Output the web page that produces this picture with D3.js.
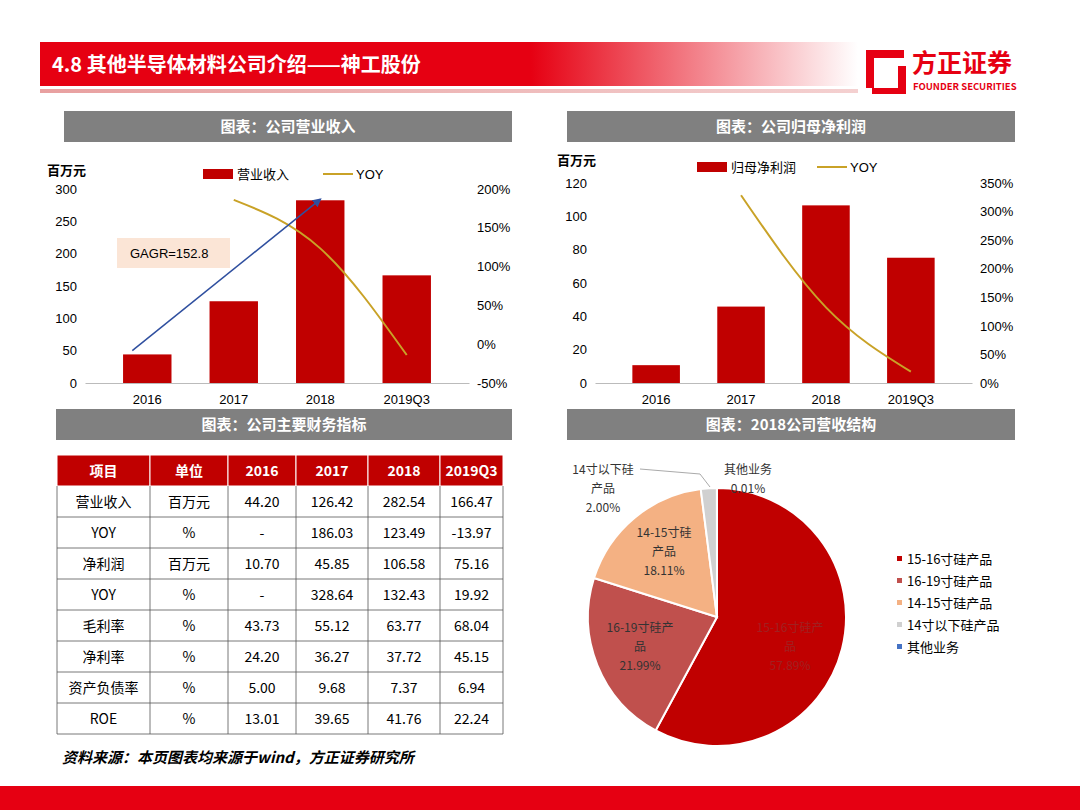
<!DOCTYPE html>
<html><head><meta charset="utf-8">
<script src="https://cdn.jsdelivr.net/npm/d3@7"></script>
<style>body{margin:0;background:#fff}text{font-family:"Noto Sans CJK SC",sans-serif}</style>
</head><body><svg id="s" width="1080" height="810"></svg>
<script>
var years = ["2016", "2017", "2018", "2019Q3"];
var revenue = [44.20, 126.42, 282.54, 166.47];
var revYoy = [null, 186.03, 123.49, -13.97];
var profit = [10.70, 45.85, 106.58, 75.16];
var profitYoy = [null, 328.64, 132.43, 19.92];
var pieNames = ["15-16寸硅产品", "16-19寸硅产品", "14-15寸硅产品", "14寸以下硅产品", "其他业务"];
var pieValues = [57.89, 21.99, 18.11, 2.00, 0.01];
var pieColors = ["#c00000", "#c0504d", "#f4b183", "#d0d0d0", "#4472c4"];
var tableHead = ["项目", "单位", "2016", "2017", "2018", "2019Q3"];
var tableRows = [
  ["营业收入", "百万元", "44.20", "126.42", "282.54", "166.47"],
  ["YOY", "%", "-", "186.03", "123.49", "-13.97"],
  ["净利润", "百万元", "10.70", "45.85", "106.58", "75.16"],
  ["YOY", "%", "-", "328.64", "132.43", "19.92"],
  ["毛利率", "%", "43.73", "55.12", "63.77", "68.04"],
  ["净利率", "%", "24.20", "36.27", "37.72", "45.15"],
  ["资产负债率", "%", "5.00", "9.68", "7.37", "6.94"],
  ["ROE", "%", "13.01", "39.65", "41.76", "22.24"]
];

var svg = d3.select("#s");
var defs = svg.append("defs");
var g1 = defs.append("linearGradient").attr("id", "hg");
g1.append("stop").attr("offset", "0").attr("stop-color", "#e60012");
g1.append("stop").attr("offset", "0.6").attr("stop-color", "#e60012");
g1.append("stop").attr("offset", "1").attr("stop-color", "#fff");
var g2 = defs.append("linearGradient").attr("id", "hg2");
g2.append("stop").attr("offset", "0").attr("stop-color", "#e8a0a0");
g2.append("stop").attr("offset", "1").attr("stop-color", "#f4d0d0");

// header
svg.append("rect").attr("x", 40).attr("y", 42).attr("width", 818).attr("height", 44).attr("fill", "url(#hg)");
svg.append("rect").attr("x", 40).attr("y", 89).attr("width", 818).attr("height", 4).attr("fill", "url(#hg2)");
svg.append("text").attr("x", 52).attr("y", 72).attr("fill", "#fff").attr("font-size", 20).attr("font-weight", "bold").text("4.8 其他半导体材料公司介绍——神工股份");
svg.append("path").attr("d", "M866,50 h38 v8 h-30 v30 h-8z M872,88 h26 v-22 h8 v28 h-34z").attr("fill", "#e60012");
svg.append("text").attr("x", 912).attr("y", 72).attr("fill", "#e60012").attr("font-size", 25).attr("font-weight", "bold").text("方正证券");
svg.append("text").attr("x", 913).attr("y", 90).attr("fill", "#e60012").attr("font-size", 9.5).attr("font-weight", "bold").text("FOUNDER SECURITIES");
svg.append("rect").attr("x", 0).attr("y", 786).attr("width", 1080).attr("height", 24).attr("fill", "#e60012");

function titleBar(x, y, w, t) {
  svg.append("rect").attr("x", x).attr("y", y).attr("width", w).attr("height", 31).attr("fill", "#808080");
  svg.append("text").attr("x", x + w / 2).attr("y", y + 21).attr("text-anchor", "middle").attr("fill", "#fff").attr("font-size", 15).attr("font-weight", "bold").text(t);
}
titleBar(64, 111, 448, "图表：公司营业收入");
titleBar(567, 111, 448, "图表：公司归母净利润");
titleBar(56, 409, 456, "图表：公司主要财务指标");
titleBar(567, 409, 448, "图表：2018公司营收结构");

function combo(o) {
  var x = d3.scaleBand().domain(years).range([o.x0, o.x1]).padding(0.44);
  var y = d3.scaleLinear().domain(o.yDom).range([383, o.yTop]);
  var y2 = d3.scaleLinear().domain(o.y2Dom).range([383, o.yTop]);
  var ax = svg.append("g").attr("transform", "translate(0,383)").call(d3.axisBottom(x).tickSize(0).tickPadding(12));
  ax.select(".domain").attr("stroke", "#bbb");
  var ay = svg.append("g").attr("transform", "translate(" + o.x0 + ",0)").call(d3.axisLeft(y).ticks(o.yTicks).tickSize(0).tickPadding(8));
  ay.select(".domain").remove();
  var ay2 = svg.append("g").attr("transform", "translate(" + o.x1 + ",0)").call(d3.axisRight(y2).ticks(o.y2Ticks).tickSize(0).tickPadding(8).tickFormat(function(d) { return d + "%"; }));
  ay2.select(".domain").remove();
  svg.selectAll(".tick text").attr("font-size", 13).attr("fill", "#000").style("font-family", "Arial, sans-serif");
  svg.append("g").selectAll("rect").data(o.bars).enter().append("rect")
    .attr("x", function(d, i) { return x(years[i]); }).attr("width", x.bandwidth())
    .attr("y", function(d) { return y(d); }).attr("height", function(d) { return 383 - y(d); })
    .attr("fill", "#c00000");
  var line = d3.line().defined(function(d) { return d != null; })
    .x(function(d, i) { return x(years[i]) + x.bandwidth() / 2; }).y(function(d) { return y2(d); }).curve(d3.curveMonotoneX);
  svg.append("path").attr("d", line(o.yoy)).attr("fill", "none").attr("stroke", "#c9a227").attr("stroke-width", 2);
  svg.append("text").attr("x", o.x0 - 38).attr("y", o.unitY).attr("font-size", 13).attr("font-weight", "bold").text("百万元");
  svg.append("rect").attr("x", o.lx).attr("y", o.ly - 5).attr("width", 30).attr("height", 10).attr("fill", "#c00000");
  svg.append("text").attr("x", o.lx + 34).attr("y", o.ly + 5).attr("font-size", 13).text(o.name);
  svg.append("line").attr("x1", o.lx + 120).attr("x2", o.lx + 150).attr("y1", o.ly).attr("y2", o.ly).attr("stroke", "#c9a227").attr("stroke-width", 2);
  svg.append("text").attr("x", o.lx + 153).attr("y", o.ly + 5).attr("font-size", 13).style("font-family", "Arial").text("YOY");
  return {x: x, y: y};
}
var c1 = combo({x0: 85, x1: 469, yDom: [0, 300], yTop: 189, yTicks: 6, y2Dom: [-50, 200], y2Ticks: 5, bars: revenue, yoy: revYoy, unitY: 175, lx: 203, ly: 174, name: "营业收入"});
combo({x0: 595, x1: 972, yDom: [0, 120], yTop: 183, yTicks: 6, y2Dom: [0, 350], y2Ticks: 7, bars: profit, yoy: profitYoy, unitY: 165, lx: 697, ly: 167, name: "归母净利润"});

// CAGR arrow
defs.append("marker").attr("id", "ar").attr("viewBox", "0 0 10 10").attr("refX", 8).attr("refY", 5)
  .attr("markerWidth", 6).attr("markerHeight", 6).attr("orient", "auto")
  .append("path").attr("d", "M0,0L10,5L0,10z").attr("fill", "#2f4f9f");
svg.append("line").attr("x1", c1.x("2016") + c1.x.bandwidth() / 2 - 15).attr("y1", c1.y(50))
  .attr("x2", c1.x("2018") + c1.x.bandwidth() / 2).attr("y2", c1.y(284))
  .attr("stroke", "#2f4f9f").attr("stroke-width", 1.5).attr("marker-end", "url(#ar)");
svg.append("rect").attr("x", 117).attr("y", 238).attr("width", 113).attr("height", 30).attr("fill", "#fbe5d6");
svg.append("text").attr("x", 130).attr("y", 258).attr("font-size", 13).style("font-family", "Arial").text("GAGR=152.8");

// table
var colX = [57, 150, 228, 296, 368, 440, 503];
var rowH = 31, ty = 455;
var tb = svg.append("g");
tb.selectAll("rect.h").data(tableHead).enter().append("rect")
  .attr("x", function(d, i) { return colX[i]; }).attr("y", ty).attr("width", function(d, i) { return colX[i + 1] - colX[i]; }).attr("height", rowH)
  .attr("fill", "#c00000").attr("stroke", "#fff");
tb.selectAll("text.h").data(tableHead).enter().append("text")
  .attr("x", function(d, i) { return (colX[i] + colX[i + 1]) / 2; }).attr("y", ty + 21).attr("text-anchor", "middle")
  .attr("fill", "#fff").attr("font-size", 14).attr("font-weight", "bold").text(function(d) { return d; });
tableRows.forEach(function(r, j) {
  var yy = ty + rowH * (j + 1);
  tb.selectAll(null).data(r).enter().append("text")
    .attr("x", function(d, i) { return (colX[i] + colX[i + 1]) / 2; }).attr("y", yy + 21).attr("text-anchor", "middle")
    .attr("font-size", 14).text(function(d) { return d; });
  tb.append("line").attr("x1", 57).attr("x2", 503).attr("y1", yy + rowH).attr("y2", yy + rowH).attr("stroke", "#555").attr("stroke-width", 0.8);
});
colX.forEach(function(cx) {
  tb.append("line").attr("x1", cx).attr("x2", cx).attr("y1", ty + rowH).attr("y2", ty + rowH * 9).attr("stroke", "#555").attr("stroke-width", 0.8);
});
svg.append("text").attr("x", 62).attr("y", 763).attr("font-size", 15).attr("font-style", "italic").attr("font-weight", "bold").text("资料来源：本页图表均来源于wind，方正证券研究所");

// pie
var cx = 717, cy = 617, R = 129;
var arcs = d3.pie().sort(null)(pieValues);
var arc = d3.arc().innerRadius(0).outerRadius(R);
var pg = svg.append("g").attr("transform", "translate(" + cx + "," + cy + ")");
pg.selectAll("path").data(arcs).enter().append("path").attr("d", arc)
  .attr("fill", function(d, i) { return pieColors[i]; }).attr("stroke", "#fff").attr("stroke-width", 2);
var lab = [
  {i: 0, x: 790, y: 632, c: "#a02020", lines: ["15-16寸硅产", "品", "57.89%"]},
  {i: 1, x: 640, y: 632, c: "#333", lines: ["16-19寸硅产", "品", "21.99%"]},
  {i: 2, x: 664, y: 537, c: "#333", lines: ["14-15寸硅", "产品", "18.11%"]},
  {i: 3, x: 603, y: 474, c: "#333", lines: ["14寸以下硅", "产品", "2.00%"]},
  {i: 4, x: 748, y: 474, c: "#333", lines: ["其他业务", "0.01%"]}
];
lab.forEach(function(l) {
  var t = svg.append("text").attr("text-anchor", "middle").attr("font-size", 12).attr("fill", l.c);
  l.lines.forEach(function(s, k) { t.append("tspan").attr("x", l.x).attr("y", l.y + k * 19).text(s); });
});
svg.append("polyline").attr("points", "640,469 700,474 710,487").attr("fill", "none").attr("stroke", "#aaa");
var lg = svg.append("g").attr("transform", "translate(897,560)");
pieNames.forEach(function(n, i) {
  lg.append("rect").attr("x", 0).attr("y", i * 22 - 4).attr("width", 5).attr("height", 5).attr("fill", pieColors[i]);
  lg.append("text").attr("x", 10).attr("y", i * 22 + 4).attr("font-size", 13).text(n);
});
</script></body></html>
